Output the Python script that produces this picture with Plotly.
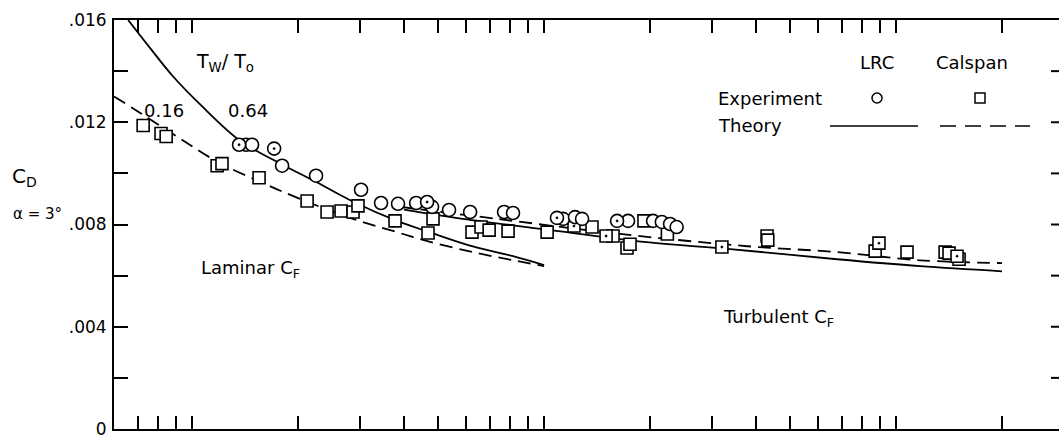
import plotly.graph_objects as go

# ---------------- data ----------------
# Theory curves (x: Reynolds-number-like abscissa on log scale, y: C_D)
lrc_lam_x = [0.329, 0.380, 0.441, 0.527, 0.684, 0.901, 1.13, 1.43, 1.91, 2.34, 3.14, 4.08, 5.0]
lrc_lam_y = [0.0160, 0.0149, 0.0138, 0.0127, 0.01128, 0.01035, 0.00965, 0.00890, 0.00814, 0.00772, 0.00714, 0.00676, 0.00641]

cal_lam_x = [0.300, 0.340, 0.453, 0.589, 0.780, 1.013, 1.405, 1.91, 2.33, 3.14, 4.08, 5.0]
cal_lam_y = [0.01301, 0.01254, 0.01144, 0.01046, 0.00967, 0.00900, 0.00826, 0.00770, 0.00735, 0.00692, 0.00660, 0.00637]

lrc_turb_x = [2.0, 2.94, 4.97, 9.8, 16.9, 34, 58.5, 100]
lrc_turb_y = [0.00858, 0.00822, 0.00782, 0.00731, 0.00704, 0.00664, 0.00637, 0.00617]

cal_turb_x = [1.95, 3.68, 8.22, 18.9, 34, 58.5, 100]
cal_turb_y = [0.00869, 0.00822, 0.00763, 0.00715, 0.00692, 0.00660, 0.00649]

# Experiment: LRC (circles)
lrc_x = [0.712, 0.740, 0.901, 1.125, 1.51, 1.721, 1.923, 2.165, 2.403, 2.685, 3.082, 3.848, 4.08,
         5.66, 6.12, 6.41, 8.66, 10.2, 10.8, 11.4, 11.9]
lrc_y = [0.01112, 0.01112, 0.01030, 0.00991, 0.00936, 0.00884, 0.00881, 0.00884, 0.00869, 0.00857,
         0.00849, 0.00849, 0.00845, 0.00822, 0.00829, 0.00822, 0.00814, 0.00814, 0.00810, 0.00802, 0.00790]
lrc_dot_x = [0.680, 0.855, 2.326, 5.44, 8.06]
lrc_dot_y = [0.01112, 0.01097, 0.00888, 0.00826, 0.00814]

# Experiment: Calspan (squares)
cal_x = [0.363, 0.408, 0.422, 0.589, 0.608, 0.775, 1.061, 1.209, 1.325, 1.433, 1.48, 1.886, 2.34,
         2.418, 3.12, 3.31, 3.49, 3.95, 5.10, 6.84, 7.85, 8.60, 8.77, 9.61, 11.2, 21.5, 21.6,
         43.6, 53.7, 68.9, 70.7, 75.5]
cal_y = [0.01187, 0.01156, 0.01144, 0.01030, 0.01038, 0.00983, 0.00892, 0.00849, 0.00853, 0.00849,
         0.00873, 0.00814, 0.00767, 0.00822, 0.00770, 0.00790, 0.00778, 0.00774, 0.00770, 0.00790,
         0.00755, 0.00708, 0.00723, 0.00814, 0.00763, 0.00755, 0.00739, 0.00696, 0.00692, 0.00692,
         0.00688, 0.00664]
cal_dot_x = [6.08, 7.50, 16.0, 44.7, 74.5]
cal_dot_y = [0.00794, 0.00755, 0.00712, 0.00727, 0.00676]

x_ticks = [0.35, 0.4, 0.45, 0.5, 1, 1.5, 2, 2.5, 3, 3.5, 4, 4.5, 5, 10,
           15, 20, 25, 30, 35, 40, 45, 50, 100]
y_ticks = [0, 0.004, 0.008, 0.012, 0.016]
y_tick_text = ["0", ".004", ".008", ".012", ".016"]
y_minor_ticks = [0.002, 0.006, 0.010, 0.014]

# ---------------- figure ----------------
W, H = 1059, 439
L, R, T, B = 114, 0, 20, 10
PW, PH = W - L - R, H - T - B

def px(x):  # screen pixel -> paper
    return (x - L) / PW

def py(y):
    return (H - B - y) / PH

FONT = "DejaVu Sans"
fig = go.Figure()

solid = dict(color="black", width=1.8)
dashed = dict(color="black", width=1.8, dash="13px,7px")

fig.add_trace(go.Scatter(x=lrc_lam_x, y=lrc_lam_y, mode="lines", line=solid, line_shape="spline"))
fig.add_trace(go.Scatter(x=cal_lam_x, y=cal_lam_y, mode="lines", line=dashed, line_shape="spline"))
fig.add_trace(go.Scatter(x=lrc_turb_x, y=lrc_turb_y, mode="lines", line=solid, line_shape="spline"))
fig.add_trace(go.Scatter(x=cal_turb_x, y=cal_turb_y, mode="lines", line=dashed, line_shape="spline"))

circ = dict(size=13, color="white", line=dict(color="black", width=1.6))
sq = dict(size=12, color="white", line=dict(color="black", width=1.6))
fig.add_trace(go.Scatter(x=cal_x, y=cal_y, mode="markers", marker=dict(symbol="square", **sq)))
fig.add_trace(go.Scatter(x=cal_dot_x, y=cal_dot_y, mode="markers", marker=dict(symbol="square-dot", **sq)))
fig.add_trace(go.Scatter(x=lrc_x, y=lrc_y, mode="markers", marker=dict(symbol="circle", **circ)))
fig.add_trace(go.Scatter(x=lrc_dot_x, y=lrc_dot_y, mode="markers", marker=dict(symbol="circle-dot", **circ)))

ann = []
def text(x, y, s, size=18, xanchor="center", yanchor="middle"):
    ann.append(dict(x=px(x), y=py(y), xref="paper", yref="paper", text=s, showarrow=False,
                    font=dict(family=FONT, size=size, color="black"), xanchor=xanchor, yanchor=yanchor))

text(225, 63, "T<sub>W</sub>/ T<sub>o</sub>", size=19)
text(164, 110, "0.16")
text(248, 110, "0.64")
text(877, 62, "LRC")
text(972, 62, "Calspan")
text(716, 98, "Experiment", xanchor="left")
text(716, 126, "Theory", xanchor="left")
text(199, 269, "Laminar C<sub>F</sub>", xanchor="left")
text(721, 318, "Turbulent C<sub>F</sub>", xanchor="left")
text(24, 177, "C<sub>D</sub>", size=20)
text(37, 214, "α = 3°", size=15)

shapes = [
    dict(type="circle", xref="paper", yref="paper", x0=px(872), x1=px(882), y0=py(103), y1=py(93),
         line=dict(color="black", width=1.5)),
    dict(type="rect", xref="paper", yref="paper", x0=px(975), x1=px(985), y0=py(103), y1=py(93),
         line=dict(color="black", width=1.5)),
    dict(type="line", xref="paper", yref="paper", x0=px(830), x1=px(918), y0=py(126), y1=py(126),
         line=dict(color="black", width=1.6)),
    dict(type="line", xref="paper", yref="paper", x0=px(940), x1=px(1030), y0=py(126), y1=py(126),
         line=dict(color="black", width=1.6, dash="16px,9px")),
]
# right-hand inward tick marks (frame edge lies at the window edge)
for v in sorted(y_ticks[1:-1] + y_minor_ticks):
    shapes.append(dict(type="line", xref="paper", yref="y", x0=px(1051), x1=1.0, y0=v, y1=v,
                       line=dict(color="black", width=2)))

fig.update_layout(
    width=W, height=H,
    margin=dict(l=L, r=R, t=T, b=B, autoexpand=False),
    paper_bgcolor="white", plot_bgcolor="white",
    showlegend=False,
    font=dict(family=FONT, size=18, color="black"),
    annotations=ann, shapes=shapes,
    xaxis=dict(type="log", range=[-0.5229, 2.1618], tickvals=x_ticks, ticks="inside", ticklen=13,
               tickwidth=2, tickcolor="black", showticklabels=False, showgrid=False, zeroline=False,
               showline=True, linecolor="black", linewidth=2, mirror="ticks", automargin=False),
    yaxis=dict(range=[0, 0.016], tickvals=y_ticks, ticktext=y_tick_text, ticks="inside", ticklen=14,
               tickwidth=2, tickcolor="black", showgrid=False, zeroline=False, showline=True,
               linecolor="black", linewidth=2, automargin=False, ticklabelstandoff=2,
               tickfont=dict(family=FONT, size=17, color="black"),
               minor=dict(tickvals=y_minor_ticks, ticks="inside", ticklen=14, tickwidth=2,
                          tickcolor="black", showgrid=False)),
)

fig.write_html(
    "out.html",
    config={"displayModeBar": False},
    post_script="document.body.style.margin='0';document.body.style.overflow='hidden';",
)
